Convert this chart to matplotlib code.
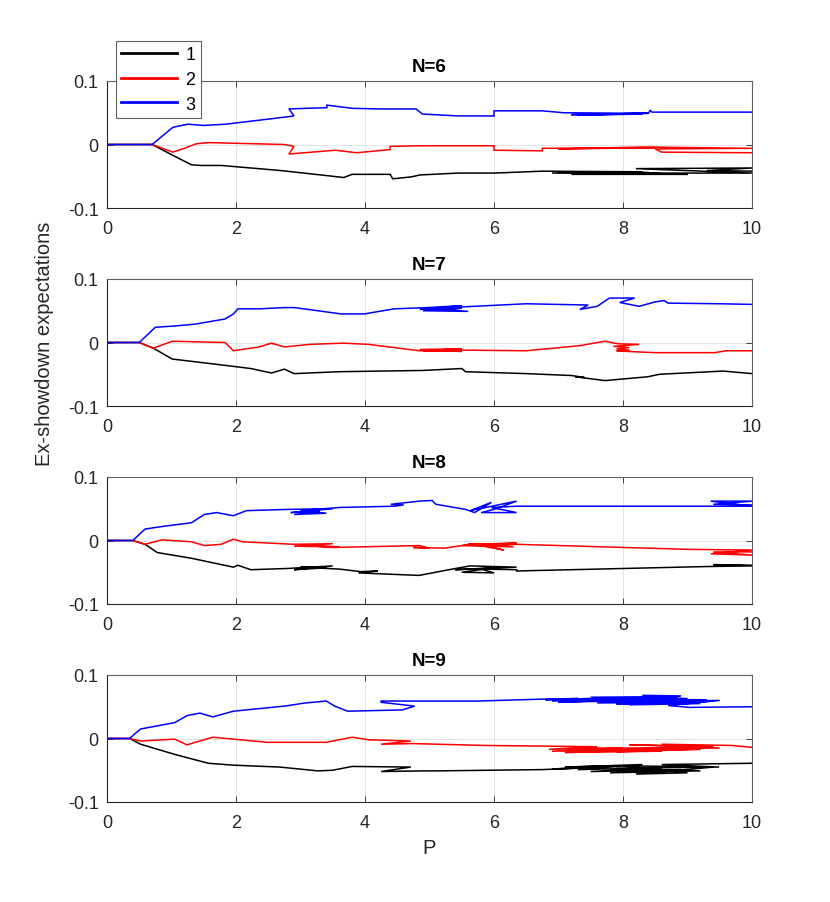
import matplotlib
matplotlib.use("Agg")
import matplotlib.pyplot as plt
from matplotlib.lines import Line2D

# ---------------- data ----------------
P6_1 = [0, 0.70, 1.02, 1.31, 1.45, 1.77, 2.69, 3.41, 3.67, 3.80, 4.39, 4.43, 4.72, 4.85, 5.44, 6.0, 6.75,
        8.3, 6.9, 8.6, 7.0, 8.4, 7.2, 9.0, 8.0, 10.0, 8.2, 10.0, 9.3, 10.0]
E6_1 = [0, 0, -0.017, -0.032, -0.033, -0.033, -0.041, -0.049, -0.052, -0.047, -0.047, -0.054, -0.051, -0.048, -0.045, -0.045, -0.042,
        -0.043, -0.045, -0.046, -0.043, -0.044, -0.047, -0.047, -0.045, -0.045, -0.038, -0.037, -0.041, -0.042]
P6_2 = [0, 0.70, 1.02, 1.20, 1.38, 1.57, 2.75, 2.90, 2.82, 3.54, 3.87, 4.39, 4.39, 4.85, 6.0, 6.0, 6.75, 6.75,
        8.5, 7.0, 8.3, 10.0, 8.5, 8.6, 10.0]
E6_2 = [0, 0, -0.012, -0.006, 0.001, 0.003, 0.0, -0.003, -0.015, -0.009, -0.013, -0.008, -0.003, -0.002, -0.002, -0.009, -0.010, -0.006,
        -0.005, -0.007, -0.004, -0.006, -0.007, -0.012, -0.013]
P6_3 = [0, 0.70, 1.02, 1.25, 1.50, 1.84, 2.75, 2.90, 2.82, 3.41, 3.41, 3.80, 4.20, 4.79, 4.89, 5.44, 6.0, 6.0, 6.75, 7.08,
        8.4, 7.2, 8.3, 7.3, 8.4, 8.42, 8.45, 10.0]
E6_3 = [0, 0, 0.027, 0.032, 0.030, 0.032, 0.043, 0.045, 0.056, 0.058, 0.062, 0.057, 0.056, 0.056, 0.048, 0.045, 0.045, 0.053, 0.053, 0.050,
        0.049, 0.047, 0.048, 0.046, 0.050, 0.054, 0.051, 0.051]

P7_1 = [0, 0.50, 0.72, 1.01, 1.83, 2.23, 2.55, 2.75, 2.90, 3.60, 4.90, 5.50, 5.56, 6.50, 7.20, 7.40, 7.26, 7.72, 8.38, 8.57,
        9.55, 10.0]
E7_1 = [0, 0, -0.009, -0.026, -0.036, -0.041, -0.048, -0.042, -0.049, -0.046, -0.044, -0.041, -0.046, -0.049, -0.052, -0.055,
        -0.054, -0.060, -0.054, -0.050, -0.045, -0.049]
P7_2 = [0, 0.50, 0.72, 1.01, 1.83, 1.96, 2.36, 2.55, 2.75, 3.14, 3.66, 4.06, 4.45, 4.84, 5.5, 4.85, 5.5, 4.9, 5.5, 6.50,
        7.33, 7.72, 7.92, 8.25, 7.85, 8.10, 7.90, 8.10, 7.90, 8.05, 8.50, 9.42, 9.60, 10.0]
E7_2 = [0, 0, -0.009, 0.002, 0.0, -0.013, -0.007, -0.001, -0.007, -0.003, -0.001, -0.003, -0.008, -0.013, -0.010, -0.011,
        -0.014, -0.013, -0.012, -0.013, -0.005, 0.002, -0.002, -0.003, -0.006, -0.008, -0.010, -0.012, -0.013, -0.014,
        -0.016, -0.016, -0.013, -0.013]
P7_3 = [0, 0.50, 0.75, 1.05, 1.37, 1.83, 1.96, 2.03, 2.36, 2.75, 2.90, 3.27, 3.63, 3.99, 4.45, 4.97, 5.5, 4.85, 5.5, 4.9,
        5.6, 5.1, 5.5, 6.5, 7.46, 7.33, 7.6, 7.79, 8.18, 7.95, 8.25, 8.5, 8.64, 8.70, 9.50, 10.0]
E7_3 = [0, 0, 0.024, 0.026, 0.029, 0.037, 0.045, 0.053, 0.053, 0.055, 0.055, 0.050, 0.045, 0.045, 0.053, 0.055, 0.058, 0.052,
        0.054, 0.050, 0.049, 0.053, 0.056, 0.061, 0.059, 0.052, 0.057, 0.070, 0.070, 0.063, 0.057, 0.064, 0.066, 0.062, 0.061, 0.060]

P8_1 = [0, 0.40, 0.59, 0.78, 1.31, 1.96, 2.03, 2.23, 2.81, 3.5, 2.9, 3.4, 3.0, 3.6, 3.93, 4.2, 3.9, 4.84, 5.30, 5.63,
        6.35, 5.4, 6.0, 5.5, 6.0, 5.8, 6.35, 6.35, 9.3, 10.0, 9.4, 10.0]
E8_1 = [0, 0, -0.006, -0.019, -0.028, -0.042, -0.039, -0.046, -0.044, -0.040, -0.046, -0.043, -0.042, -0.045, -0.049, -0.048,
        -0.051, -0.055, -0.046, -0.040, -0.042, -0.046, -0.043, -0.050, -0.051, -0.045, -0.046, -0.048, -0.041, -0.040, -0.038, -0.039]
P8_2 = [0, 0.40, 0.59, 0.85, 1.31, 1.51, 1.77, 1.96, 2.10, 2.9, 3.5, 2.9, 3.6, 3.0, 3.5, 4.84, 5.0, 4.75, 5.24, 5.63,
        6.35, 5.5, 6.3, 5.6, 6.0, 6.15, 5.9, 6.35, 9.03, 10.0, 9.36, 10.0, 9.4, 10.0]
E8_2 = [0, 0, -0.006, 0.001, -0.002, -0.008, -0.006, 0.002, -0.002, -0.006, -0.005, -0.009, -0.010, -0.007, -0.011, -0.008,
        -0.012, -0.011, -0.012, -0.006, -0.004, -0.008, -0.010, -0.005, -0.012, -0.015, -0.009, -0.006, -0.014, -0.015, -0.021,
        -0.023, -0.018, -0.018]
P8_3 = [0, 0.40, 0.59, 0.85, 1.31, 1.51, 1.70, 1.96, 2.16, 2.81, 3.5, 2.85, 3.3, 2.9, 3.4, 3.0, 3.6, 4.45, 4.6, 4.4, 4.84,
        5.04, 5.10, 5.56, 5.7, 5.96, 5.63, 6.35, 6.0, 5.8, 6.35, 5.96, 6.35, 9.3, 10.0, 9.36, 10.0, 9.4, 10.0]
E8_3 = [0, 0, 0.018, 0.022, 0.028, 0.041, 0.044, 0.039, 0.047, 0.049, 0.050, 0.044, 0.046, 0.041, 0.043, 0.047, 0.052, 0.054,
        0.056, 0.057, 0.062, 0.063, 0.057, 0.049, 0.044, 0.060, 0.047, 0.062, 0.049, 0.044, 0.044, 0.052, 0.054, 0.054, 0.054,
        0.062, 0.062, 0.057, 0.056]

P9_1 = [0, 0.35, 0.52, 1.05, 1.57, 1.96, 2.68, 3.27, 3.50, 3.80, 4.71, 4.25, 4.9, 5.10, 6.74,
        7.5, 6.9, 7.9, 7.1, 8.3, 7.3, 8.6, 7.5, 8.9, 7.8, 9.2, 7.9, 9.4, 8.2, 9.0, 8.0, 9.49, 8.6, 10.0]
E9_1 = [0, 0, -0.009, -0.025, -0.039, -0.042, -0.045, -0.051, -0.050, -0.044, -0.045, -0.052, -0.051, -0.051, -0.049,
        -0.046, -0.048, -0.043, -0.045, -0.041, -0.049, -0.046, -0.052, -0.049, -0.054, -0.051, -0.047, -0.045, -0.056, -0.054,
        -0.043, -0.045, -0.041, -0.039]
P9_2 = [0, 0.35, 0.52, 1.05, 1.24, 1.44, 1.64, 1.96, 2.49, 3.40, 3.80, 4.06, 4.71, 4.25, 4.74, 5.89, 6.81,
        7.6, 6.85, 8.0, 6.9, 8.3, 7.1, 8.6, 7.4, 8.9, 7.7, 9.2, 7.9, 9.0, 8.1, 9.4, 8.3, 9.5, 8.6, 9.69, 10.0]
E9_2 = [0, 0, -0.004, -0.001, -0.010, -0.004, 0.002, -0.001, -0.006, -0.006, 0.002, -0.002, -0.004, -0.009, -0.008, -0.011,
        -0.012, -0.013, -0.017, -0.015, -0.020, -0.018, -0.022, -0.020, -0.016, -0.014, -0.019, -0.017, -0.021, -0.012, -0.010,
        -0.013, -0.016, -0.015, -0.009, -0.011, -0.014]
P9_3 = [0, 0.35, 0.52, 1.05, 1.24, 1.44, 1.64, 1.96, 2.75, 3.08, 3.40, 3.53, 3.73, 4.58, 4.77, 4.25, 4.25, 5.76, 6.74,
        7.3, 6.8, 7.8, 6.9, 8.2, 7.0, 8.6, 7.2, 9.0, 7.5, 8.8, 7.8, 9.3, 7.6, 9.1, 7.9, 9.4, 8.1, 9.2, 8.3, 8.9, 8.4, 9.5, 8.7,
        9.03, 10.0]
E9_3 = [0, 0, 0.015, 0.025, 0.036, 0.040, 0.034, 0.043, 0.051, 0.056, 0.059, 0.051, 0.043, 0.045, 0.051, 0.057, 0.059, 0.059,
        0.062, 0.063, 0.061, 0.064, 0.059, 0.062, 0.057, 0.061, 0.060, 0.063, 0.065, 0.066, 0.062, 0.061, 0.056, 0.057, 0.054,
        0.059, 0.053, 0.055, 0.068, 0.067, 0.058, 0.060, 0.052, 0.049, 0.050]

titles = ["N=6", "N=7", "N=8", "N=9"]
series_labels = ["1", "2", "3"]
x_ticks = [0, 2, 4, 6, 8, 10]
y_ticks = [-0.1, 0, 0.1]
y_ticklabels = ["-0.1", "0", "0.1"]

panels = [
    [(P6_1, E6_1), (P6_2, E6_2), (P6_3, E6_3)],
    [(P7_1, E7_1), (P7_2, E7_2), (P7_3, E7_3)],
    [(P8_1, E8_1), (P8_2, E8_2), (P8_3, E8_3)],
    [(P9_1, E9_1), (P9_2, E9_2), (P9_3, E9_3)],
]

# ---------------- style ----------------
colors = ["#000000", "#ff0000", "#0000ff"]
plt.rcParams['font.family'] = ['Liberation Sans', 'DejaVu Sans']
txt = "#262626"

W, H = 830, 903
fig = plt.figure(figsize=(W / 100, H / 100), dpi=100)
left = 107 / W
width = (752 - 107) / W
height = 127 / H
bottoms_px = [209, 407, 605, 803]

axes = []
for i, bpx in enumerate(bottoms_px):
    ax = fig.add_axes([left, 1 - bpx / H, width, height])
    for (px, ey), c in zip(panels[i], colors):
        ax.plot(px, ey, color=c, lw=1.1, solid_joinstyle='miter')
    ax.set_xlim(0, 10)
    ax.set_ylim(-0.1, 0.1)
    ax.set_xticks(x_ticks)
    ax.set_xticklabels([str(t) for t in x_ticks])
    ax.set_yticks(y_ticks)
    ax.set_yticklabels(y_ticklabels)
    ax.grid(True, color="#e3e3e3", lw=0.7)
    ax.set_axisbelow(True)
    ax.tick_params(direction='in', length=4, width=0.6, colors=txt,
                   labelsize=13, top=True, right=True)
    ax.tick_params(axis='x', pad=9)
    ax.tick_params(axis='y', pad=6)
    for name, s in ax.spines.items():
        s.set_color(txt if name in ('left', 'bottom') else '#606060')
        s.set_linewidth(0.8)
    ax.set_title(titles[i], fontsize=13.5, fontweight='bold', color='#000000', pad=7)
    axes.append(ax)

axes[1].set_ylabel("Ex-showdown expectations", fontsize=14.5, color=txt, labelpad=10)
axes[3].set_xlabel("P", fontsize=14.5, color=txt, labelpad=5)

handles = [Line2D([0], [0], color=c, lw=2.0) for c in colors]
leg = fig.legend(handles, series_labels, loc='upper left',
                 bbox_to_anchor=(116 / W, 1 - 42 / H), fontsize=13,
                 handlelength=3.1, handletextpad=0.45, labelspacing=0.42,
                 borderpad=0.3, borderaxespad=0, fancybox=False,
                 frameon=True, edgecolor='#606060', framealpha=1)
leg.get_frame().set_linewidth(0.8)

fig.savefig("out.png", dpi=100)
